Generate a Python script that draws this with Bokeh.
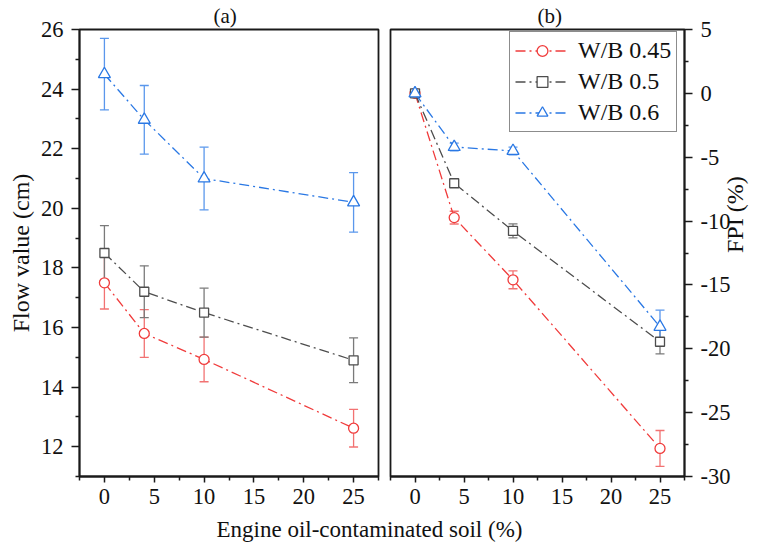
import math
from bokeh.plotting import figure
from bokeh.models import (Range1d, Whisker, TeeHead, ColumnDataSource, FixedTicker,
                          Legend, LegendItem, Label)
from bokeh.layouts import column, row
from bokeh.embed import file_html
from bokeh.resources import INLINE

# ---------------- data ----------------
oil = [0, 4, 10, 25]
series_names = ["W/B 0.45", "W/B 0.5", "W/B 0.6"]

flow_045 = [17.5, 15.8, 14.93, 12.62]
flow_045_err = [0.88, 0.8, 0.75, 0.63]
flow_05 = [18.5, 17.2, 16.5, 14.9]
flow_05_err = [0.92, 0.87, 0.82, 0.75]
flow_06 = [24.5, 22.97, 21.0, 20.2]
flow_06_err = [1.2, 1.15, 1.05, 1.0]

fpi_045 = [0, -9.73, -14.6, -27.8]
fpi_045_err = [0, 0.5, 0.7, 1.4]
fpi_05 = [0, -7.04, -10.77, -19.45]
fpi_05_err = [0, 0.2, 0.55, 0.95]
fpi_06 = [0, -4.2, -4.51, -18.28]
fpi_06_err = [0, 0.3, 0.3, 1.3]

x_ticks = [0, 5, 10, 15, 20, 25]
flow_ticks = [12, 14, 16, 18, 20, 22, 24, 26]
fpi_ticks = [-30, -25, -20, -15, -10, -5, 0, 5]

# ---------------- style ----------------
FONT = "Liberation Serif"
line_colors = ["#F03C3C", "#4D4D4D", "#2A78E4"]
err_colors = ["#F27272", "#7A7A7A", "#5A97EC"]
markers = ["circle", "square", "triangle"]
sizes = [10, 9, 12]
DASH = "10 4 2 4"


def style_axes(p):
    p.xgrid.visible = False
    p.ygrid.visible = False
    p.outline_line_color = "#1a1a1a"
    p.outline_line_width = 1.8
    p.background_fill_color = "white"
    p.border_fill_color = "white"
    for ax in list(p.xaxis) + list(p.yaxis):
        ax.axis_line_width = 1.8
        ax.axis_line_color = "#1a1a1a"
        ax.major_tick_line_color = "#1a1a1a"
        ax.minor_tick_line_color = "#1a1a1a"
        ax.major_tick_line_width = 1.5
        ax.minor_tick_line_width = 1.5
        ax.major_tick_in = 0
        ax.minor_tick_in = 0
        ax.major_label_text_font = FONT
        ax.major_label_text_font_size = "22.5px"
        ax.major_label_text_color = "#111111"
        ax.axis_label_text_font = FONT
        ax.axis_label_text_font_size = "24px"
        ax.axis_label_text_font_style = "normal"
        ax.axis_label_text_color = "#111111"
    for ax in p.xaxis:
        ax.major_tick_out = 6
        ax.minor_tick_out = 4
        ax.major_label_standoff = 6
    for ax in p.yaxis:
        ax.major_tick_out = 8
        ax.minor_tick_out = 4
        ax.major_label_standoff = 8
    p.title.text_font = FONT
    p.title.text_font_size = "21px"
    p.title.text_font_style = "normal"
    p.title.text_color = "#111111"
    p.title.align = "left"
    p.title.standoff = 3


def add_series(p, ys, errs, i):
    src = ColumnDataSource(dict(x=oil, y=ys,
                                upper=[a + b for a, b in zip(ys, errs)],
                                lower=[a - b for a, b in zip(ys, errs)]))
    w = Whisker(source=src, base="x", upper="upper", lower="lower",
                line_color=err_colors[i], line_width=1.3,
                upper_head=TeeHead(size=9, line_color=err_colors[i], line_width=1.3),
                lower_head=TeeHead(size=9, line_color=err_colors[i], line_width=1.3))
    p.add_layout(w)
    lr = p.line("x", "y", source=src, line_color=line_colors[i], line_width=1.3,
                line_dash=DASH)
    sr = p.scatter("x", "y", source=src, marker=markers[i], size=sizes[i],
                   fill_color="white", line_color=line_colors[i], line_width=1.3)
    return lr, sr


x_minor = [-2.5, 2.5, 7.5, 12.5, 17.5, 22.5, 27.5]

# ---------------- panel (a) ----------------
p1 = figure(width=384, height=513, x_range=Range1d(-2.5, 27.5), y_range=Range1d(11, 26),
            output_backend="svg", toolbar_location=None, title="(a)",
            min_border_left=79, min_border_right=6, min_border_top=28, min_border_bottom=37)
style_axes(p1)
p1.title.offset = 134
p1.xaxis.ticker = FixedTicker(ticks=x_ticks, minor_ticks=x_minor)
p1.yaxis.ticker = FixedTicker(ticks=flow_ticks, minor_ticks=[11, 13, 15, 17, 19, 21, 23, 25])
p1.yaxis.axis_label = "Flow value (cm)"
p1.yaxis.axis_label_standoff = 4
for i, ys in enumerate([flow_045, flow_05, flow_06]):
    add_series(p1, ys, [flow_045_err, flow_05_err, flow_06_err][i], i)

# ---------------- panel (b) ----------------
p2 = figure(width=380, height=513, x_range=Range1d(-2.5, 27.5), y_range=Range1d(-30, 5),
            output_backend="svg", toolbar_location=None, y_axis_location="right", title="(b)",
            min_border_left=6, min_border_right=75, min_border_top=28, min_border_bottom=37)
style_axes(p2)
p2.title.offset = 147
p2.xaxis.ticker = FixedTicker(ticks=x_ticks, minor_ticks=x_minor)
p2.yaxis.ticker = FixedTicker(ticks=fpi_ticks, minor_ticks=[-27.5, -22.5, -17.5, -12.5, -7.5, -2.5, 2.5])
p2.yaxis.major_label_overrides = {t: str(t) for t in fpi_ticks}
p2.yaxis.axis_label = "FPI (%)" + "\u00a0" * 2
p2.yaxis.axis_label_standoff = 2
p2.yaxis.axis_label_orientation = math.pi / 2
items = []
for i, ys in enumerate([fpi_045, fpi_05, fpi_06]):
    lr, sr = add_series(p2, ys, [fpi_045_err, fpi_05_err, fpi_06_err][i], i)
    items.append(LegendItem(label=series_names[i], renderers=[lr, sr]))
legend = Legend(items=items, location=(119, 344),
                label_text_font=FONT, label_text_font_size="24px", label_text_color="#111111",
                glyph_width=54, glyph_height=27, label_height=27, label_standoff=9,
                spacing=4, padding=5, margin=0,
                border_line_color="#1a1a1a", border_line_width=1.2,
                background_fill_color="white", background_fill_alpha=1.0)
p2.add_layout(legend)

# ---------------- shared x label ----------------
p3 = figure(width=764, height=33, x_range=Range1d(0, 764), y_range=Range1d(0, 33),
            output_backend="svg", toolbar_location=None, x_axis_type=None, y_axis_type=None,
            min_border=0)
p3.outline_line_color = None
p3.xgrid.visible = False
p3.ygrid.visible = False
p3.add_layout(Label(x=369, y=17.5, text="Engine oil-contaminated soil (%)", text_align="center",
                    text_baseline="middle", text_font=FONT, text_font_size="23px",
                    text_color="#111111"))

layout = column(row(p1, p2), p3)
open("out.html", "w").write(file_html(layout, INLINE))
